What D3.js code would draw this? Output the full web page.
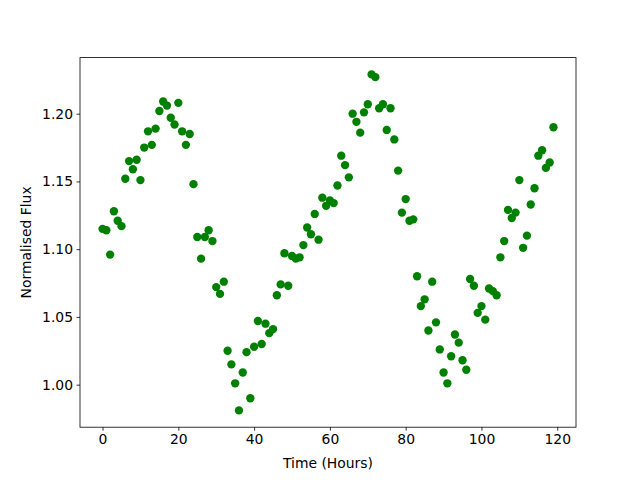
<!DOCTYPE html>
<html><head><meta charset="utf-8">
<script src="https://cdn.jsdelivr.net/npm/d3@7"></script>
<style>body{margin:0;background:#fff}svg{display:block}text{font-family:"DejaVu Sans",sans-serif}</style>
</head><body>
<svg id="c" width="640" height="480"></svg>
<script>
const hours = d3.range(0, 120);
const flux = [1.115,1.114,1.096,1.128,1.121,1.117,1.152,1.165,1.159,1.166,
1.151,1.175,1.187,1.177,1.189,1.202,1.209,1.206,1.197,1.192,
1.208,1.187,1.177,1.185,1.148,1.109,1.093,1.109,1.114,1.106,
1.072,1.067,1.076,1.025,1.015,1.001,0.981,1.009,1.024,0.990,
1.028,1.047,1.030,1.045,1.038,1.041,1.066,1.074,1.097,1.073,
1.095,1.093,1.094,1.103,1.116,1.111,1.126,1.107,1.138,1.132,
1.136,1.134,1.147,1.169,1.162,1.153,1.200,1.194,1.186,1.201,
1.207,1.229,1.227,1.204,1.207,1.188,1.204,1.181,1.158,1.127,
1.137,1.121,1.122,1.080,1.058,1.063,1.040,1.076,1.046,1.026,
1.009,1.001,1.021,1.037,1.031,1.018,1.011,1.078,1.073,1.053,
1.058,1.048,1.071,1.069,1.066,1.094,1.106,1.129,1.123,1.127,
1.151,1.101,1.110,1.133,1.145,1.169,1.173,1.160,1.164,1.190];
const xTicks = [0,20,40,60,80,100,120];
const yTicks = [1.00,1.05,1.10,1.15,1.20];

const L=80,R=576,T=57.6,B=427.2;
const svg=d3.select("#c");
const xmin=d3.min(hours),xmax=d3.max(hours),xm=(xmax-xmin)*0.05;
const ymin=d3.min(flux),ymax=d3.max(flux),ym=(ymax-ymin)*0.05;
const x=d3.scaleLinear().domain([xmin-xm,xmax+xm]).range([L,R]);
const y=d3.scaleLinear().domain([ymin-ym,ymax+ym]).range([B,T]);

svg.append("g").selectAll("circle").data(hours).join("circle")
  .attr("cx",(d)=>x(d)).attr("cy",(d,i)=>y(flux[i])).attr("r",4.17).attr("fill","#008000");

const xa=svg.append("g").attr("transform",`translate(0,${B})`)
  .call(d3.axisBottom(x).tickValues(xTicks).tickSize(3.5).tickPadding(3.5).tickFormat(d3.format("d")));
const ya=svg.append("g").attr("transform",`translate(${L},0)`)
  .call(d3.axisLeft(y).tickValues(yTicks).tickSize(3.5).tickPadding(3.5).tickFormat(d3.format(".2f")));
[xa,ya].forEach(a=>{a.select(".domain").remove();a.selectAll("line").attr("stroke","#000").attr("stroke-width",0.8);
  a.selectAll("text").attr("font-size","13.9px").attr("fill","#000").attr("font-family","DejaVu Sans");});
svg.append("rect").attr("x",L).attr("y",T).attr("width",R-L).attr("height",B-T)
  .attr("fill","none").attr("stroke","#000").attr("stroke-width",0.8);
svg.append("text").attr("x",(L+R)/2).attr("y",468).attr("text-anchor","middle").attr("font-size","13.9px").text("Time (Hours)");
svg.append("text").attr("transform",`translate(31,${(T+B)/2}) rotate(-90)`).attr("text-anchor","middle").attr("font-size","13.9px").text("Normalised Flux");
</script>
</body></html>
